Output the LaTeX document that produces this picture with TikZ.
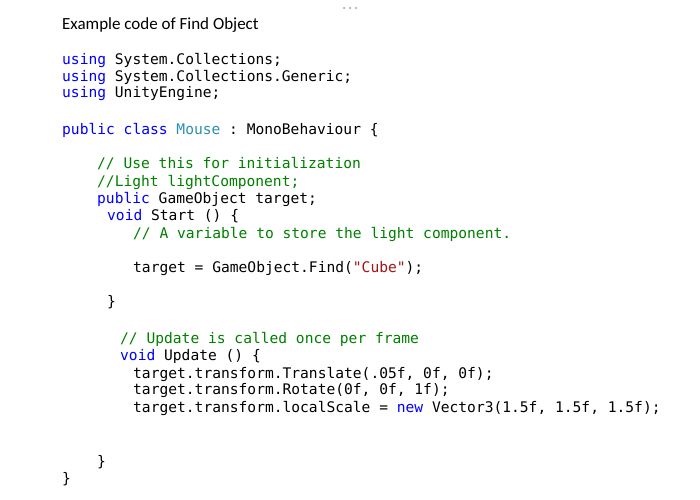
\documentclass[tikz,border=0pt]{standalone}
\usepackage{fontspec}
\setmainfont{Carlito}
\setmonofont{DejaVu Sans Mono}
\definecolor{kw}{RGB}{0,0,255}
\definecolor{ty}{RGB}{43,145,175}
\definecolor{cm}{RGB}{0,128,0}
\definecolor{st}{RGB}{163,21,21}
\begin{document}
\begin{tikzpicture}[x=1pt,y=-1pt,
  code/.style={anchor=west,inner sep=0pt,font=\fontsize{14.6}{16}\ttfamily},
  ttl/.style={anchor=west,inner sep=0pt,font=\fontsize{17}{19}\selectfont},
  dot/.style={circle,fill=gray!60,inner sep=0pt,minimum size=2.5pt}]
\useasboundingbox[fill=white] (0,0) rectangle (700,499);
\node[dot] (d1) at (344,8) {};
\node[dot] (d2) at (350,8) {};
\node[dot] (d3) at (356,8) {};
\node[ttl] (t) at (62,25) {Example code of Find Object};
\node[code] (l1) at (62,60) {\textcolor{kw}{using} System.Collections;};
\node[code] (l2) at (62,77) {\textcolor{kw}{using} System.Collections.Generic;};
\node[code] (l3) at (62,94) {\textcolor{kw}{using} UnityEngine;};
\node[code] (l4) at (62,130) {\textcolor{kw}{public class} \textcolor{ty}{Mouse} : MonoBehaviour \{};
\node[code,text=cm] (l5) at (97,164) {// Use this for initialization};
\node[code,text=cm] (l6) at (97,182) {//Light lightComponent;};
\node[code] (l7) at (97,199) {\textcolor{kw}{public} GameObject target;};
\node[code] (l8) at (107,216) {\textcolor{kw}{void} Start () \{};
\node[code,text=cm] (l9) at (133,234) {// A variable to store the light component.};
\node[code] (l10) at (133,269) {target = GameObject.Find(\textcolor{st}{"Cube"});};
\node[code] (l11) at (107,302) {\}};
\node[code,text=cm] (l12) at (120,339) {// Update is called once per frame};
\node[code] (l13) at (120,356) {\textcolor{kw}{void} Update () \{};
\node[code] (l14) at (133,374) {target.transform.Translate(.05f, 0f, 0f);};
\node[code] (l15) at (133,391) {target.transform.Rotate(0f, 0f, 1f);};
\node[code] (l16) at (133,408) {target.transform.localScale = \textcolor{kw}{new} Vector3(1.5f, 1.5f, 1.5f);};
\node[code] (l17) at (97,462) {\}};
\node[code] (l18) at (62,479) {\}};
\end{tikzpicture}
\end{document}
